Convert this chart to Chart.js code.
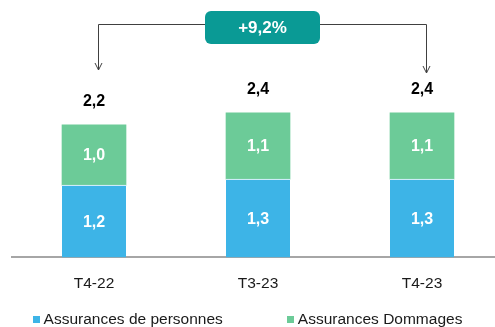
<!DOCTYPE html>
<html>
<head>
<meta charset="utf-8">
<script src="https://cdn.jsdelivr.net/npm/chart.js@4/dist/chart.umd.min.js"></script>
<style>
  html, body { margin: 0; padding: 0; background: #fff; overflow: hidden; }
  #wrap { width: 495px; height: 327px; position: relative; overflow: hidden; }
  #c { position: absolute; left: 0; top: 0; }
</style>
</head>
<body>
<div id="wrap"><canvas id="c" width="504" height="327"></canvas></div>
<script>
// Chiffre d'affaires par trimestre (Md€)
const categories = ['T4-22', 'T3-23', 'T4-23'];
const personnes = [1.2, 1.3, 1.3];
const dommages = [1.0, 1.1, 1.1];
const seriesNames = ['Assurances de personnes', 'Assurances Dommages'];
const growthLabel = '+9,2%';

const BLUE = '#3db4e7';
const GREEN = '#6ccb98';
const TEAL = '#0a9a95';
const FONT = '"Liberation Sans", Arial, sans-serif';
const VIEW_W = document.getElementById('wrap').clientWidth;
const fmt = v => v.toFixed(1).replace('.', ',');

// Segment values inside the bars and totals above each stack
const valueLabels = {
  id: 'valueLabels',
  afterDatasetsDraw(chart) {
    const ctx = chart.ctx;
    ctx.save();
    ctx.textAlign = 'center';
    ctx.textBaseline = 'middle';
    ctx.font = 'bold 16px ' + FONT;
    ctx.fillStyle = '#ffffff';
    chart.data.datasets.forEach((ds, di) => {
      chart.getDatasetMeta(di).data.forEach((bar, i) => {
        ctx.fillText(fmt(ds.data[i]), bar.x, (bar.y + bar.base) / 2 + 1);
      });
    });
    ctx.fillStyle = '#000000';
    ctx.font = 'bold 16px ' + FONT;
    const topBars = chart.getDatasetMeta(chart.data.datasets.length - 1).data;
    categories.forEach((c, i) => {
      const total = chart.data.datasets.reduce((s, ds) => s + ds.data[i], 0);
      ctx.fillText(fmt(total), topBars[i].x, topBars[i].y - 23);
    });
    ctx.restore();
  }
};

// Growth bracket from the first to the last quarter, with its badge
const growthBracket = {
  id: 'growthBracket',
  afterDraw(chart) {
    const bars = chart.getDatasetMeta(0).data;
    const x1 = Math.round(bars[0].x + 4) + 0.5;
    const x2 = Math.round(bars[bars.length - 1].x + 4) + 0.5;
    const yLine = 24.5;
    const ctx = chart.ctx;
    ctx.save();
    ctx.strokeStyle = '#404040';
    ctx.lineWidth = 1;
    ctx.beginPath();
    ctx.moveTo(x1, 70);
    ctx.lineTo(x1, yLine);
    ctx.lineTo(x2, yLine);
    ctx.lineTo(x2, 73);
    ctx.stroke();
    [[x1, 70], [x2, 73]].forEach(([x, y]) => {
      ctx.beginPath();
      ctx.moveTo(x - 3.5, y - 7);
      ctx.lineTo(x, y);
      ctx.lineTo(x + 3.5, y - 7);
      ctx.stroke();
    });
    const cx = (x1 + x2) / 2, w = 115, h = 33, bx = cx - w / 2, by = 11;
    ctx.fillStyle = TEAL;
    ctx.beginPath();
    ctx.roundRect(bx, by, w, h, 6);
    ctx.fill();
    ctx.fillStyle = '#ffffff';
    ctx.font = 'bold 17px ' + FONT;
    ctx.textAlign = 'center';
    ctx.textBaseline = 'middle';
    ctx.fillText(growthLabel, cx, by + h / 2 + 1);
    ctx.restore();
  }
};

// Legend row under the axis, centred in the visible width
const bottomLegend = {
  id: 'bottomLegend',
  afterDraw(chart) {
    const ctx = chart.ctx;
    ctx.save();
    ctx.font = '15.5px ' + FONT;
    ctx.textBaseline = 'middle';
    const box = 7, gapText = 4, gapItem = 64, yMid = 319.5;
    const items = chart.data.datasets.map(ds => ({
      text: ds.label,
      color: ds.backgroundColor,
      w: box + gapText + ctx.measureText(ds.label).width
    }));
    const total = items.reduce((s, it) => s + it.w, 0) + gapItem * (items.length - 1);
    let x = (VIEW_W - total) / 2;
    items.forEach(it => {
      ctx.fillStyle = it.color;
      ctx.fillRect(Math.round(x), Math.round(yMid - 3.5), box, box);
      ctx.fillStyle = '#1a1a1a';
      ctx.fillText(it.text, x + box + gapText, yMid);
      x += it.w + gapItem;
    });
    ctx.restore();
  }
};

new Chart(document.getElementById('c'), {
  type: 'bar',
  data: {
    labels: categories,
    datasets: [
      {
        label: seriesNames[0],
        data: personnes,
        backgroundColor: BLUE,
        borderColor: '#ffffff',
        borderWidth: { top: 1, right: 0, bottom: 0, left: 0 }
      },
      {
        label: seriesNames[1],
        data: dommages,
        backgroundColor: GREEN,
        borderWidth: 0
      }
    ]
  },
  options: {
    responsive: false,
    devicePixelRatio: 1,
    animation: false,
    datasets: { bar: { barThickness: 64 } },
    layout: { padding: { top: 16.5, left: 12, right: 0, bottom: 17 } },
    plugins: { legend: { display: false }, tooltip: { enabled: false } },
    scales: {
      x: {
        stacked: true,
        grid: { display: true, color: 'rgba(0,0,0,0)', drawTicks: false, drawOnChartArea: false },
        border: { display: true, color: '#a6a6a6', width: 2 },
        ticks: { color: '#1a1a1a', font: { family: FONT, size: 15.5 }, padding: 17 }
      },
      y: { stacked: true, display: false, min: 0, max: 4 }
    }
  },
  plugins: [valueLabels, growthBracket, bottomLegend]
});
</script>
</body>
</html>
